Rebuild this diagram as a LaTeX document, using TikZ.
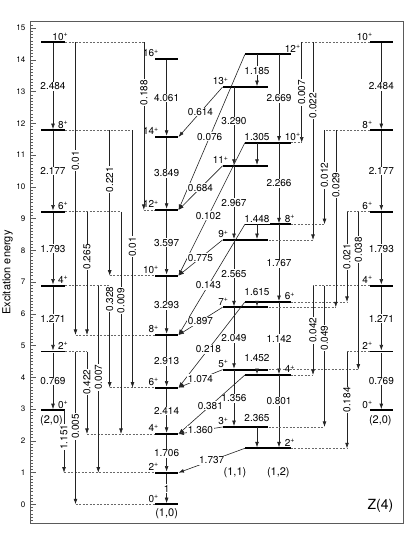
\documentclass[tikz,border=0pt]{standalone}
\usepackage{fontspec}
\setmainfont{TeX Gyre Heros}
\usepackage{tikz}
\usetikzlibrary{positioning, arrows.meta}
\definecolor{linegrey}{RGB}{35,35,35}
\definecolor{dashgrey}{RGB}{105,105,105}
\definecolor{framegrey}{RGB}{90,90,90}
\newcommand{\jp}[1]{#1\textsuperscript{+}}

\begin{document}
\begin{tikzpicture}[
  x=1pt, y=31.75pt,
  font=\fontsize{10}{12}\selectfont,
  lev/.style={fill=black, inner sep=0pt, minimum height=1.8pt},
  levA/.style={lev, minimum width=24pt},
  levG/.style={lev, minimum width=23.3pt},
  levB/.style={lev, minimum width=23pt},
  levW/.style={lev, minimum width=45.6pt},
  spin/.style={inner sep=0.8pt},
  spinA/.style={spin, anchor=south east, xshift=4pt},
  spinG/.style={spin, anchor=south east, xshift=5pt},
  spinO/.style={spin, anchor=south east, xshift=7pt},
  spinE/.style={spin, anchor=south west, xshift=-7pt},
  spinB/.style={spin, anchor=south east, xshift=4pt},
  trans/.style={draw=linegrey, line width=0.6pt, -{Latex[length=5.5pt, width=3.8pt]}},
  transp/.style={trans, shorten >=0.9pt},
  link/.style={draw=dashgrey, line width=0.5pt, dash pattern=on 2pt off 1.5pt},
  val/.style={fill=white, inner sep=0.8pt},
  valv/.style={val, rotate=90},
  band/.style={font=\fontsize{11}{13}\selectfont, inner sep=0pt},
  ticklab/.style={font=\fontsize{8}{9}\selectfont, inner sep=0.5pt, anchor=east}
]
\useasboundingbox (0,-1.282) rectangle (404,15.883);

% frame and energy axis
\draw[framegrey, line width=1pt] (30.7,-0.598) rectangle (403,15.22);
\foreach \i in {-5,...,152} \draw[framegrey, line width=0.4pt] (30.7,\i/10) -- ++(2.5,0);
\foreach \e in {0,...,15} {
  \draw[framegrey, line width=0.5pt] (30.7,\e) -- ++(5,0);
  \node[ticklab] (tk\e) at (26,\e) {\e};
}
\node[rotate=90, font=\fontsize{11}{13}\selectfont] (ylab) at (7.5,7.3) {Excitation energy};

% columns of the interband lines
\coordinate (la) at (64,0);
\coordinate (lb) at (75.5,0);
\coordinate (lc) at (87,0);
\coordinate (ld) at (98.3,0);
\coordinate (le) at (109.7,0);
\coordinate (lf) at (121,0);
\coordinate (lg) at (132.5,0);
\coordinate (lh) at (143.8,0);
\coordinate (ra) at (301.7,0);
\coordinate (rb) at (313,0);
\coordinate (rc) at (324.5,0);
\coordinate (rd) at (335.8,0);
\coordinate (re) at (347,0);
\coordinate (rf) at (358.3,0);
\coordinate (oddx) at (234,0);
\coordinate (evnx) at (279,0);
\coordinate (dix) at (257,0);

% (2,0) band, left
\node[levA] (a0) at (53,2.96) {};
\node[levA] (a2) at (53,4.81) {};
\node[levA] (a4) at (53,6.885) {};
\node[levA] (a6) at (53,9.216) {};
\node[levA] (a8) at (53,11.78) {};
\node[levA] (a10) at (53,14.55) {};
\node[spinA] (sa0) at (a0.north east) {\jp{0}};
\node[spinA] (sa2) at (a2.north east) {\jp{2}};
\node[spinA] (sa4) at (a4.north east) {\jp{4}};
\node[spinA] (sa6) at (a6.north east) {\jp{6}};
\node[spinA] (sa8) at (a8.north east) {\jp{8}};
\node[spinA] (sa10) at (a10.north east) {\jp{10}};
\node[band, below=3.5pt of a0, xshift=-1.5pt] (na) {(2,0)};

% ground band (1,0)
\node[levG] (g0) at (166.6,0) {};
\node[levG] (g2) at (166.6,0.995) {};
\node[levG] (g4) at (166.6,2.214) {};
\node[levG] (g6) at (166.6,3.672) {};
\node[levG] (g8) at (166.6,5.332) {};
\node[levG] (g10) at (166.6,7.2) {};
\node[levG] (g12) at (166.6,9.269) {};
\node[levG] (g14) at (166.6,11.568) {};
\node[levG] (g16) at (166.6,14.025) {};
\node[spinG] (sg0) at (g0.north west) {\jp{0}};
\node[spinG] (sg2) at (g2.north west) {\jp{2}};
\node[spinG] (sg4) at (g4.north west) {\jp{4}};
\node[spinG] (sg6) at (g6.north west) {\jp{6}};
\node[spinG] (sg8) at (g8.north west) {\jp{8}};
\node[spinG] (sg10) at (g10.north west) {\jp{10}};
\node[spinG] (sg12) at (g12.north west) {\jp{12}};
\node[spinG] (sg14) at (g14.north west) {\jp{14}};
\node[spinG] (sg16) at (g16.north west) {\jp{16}};
\node[band, below=2.5pt of g0] (ng) {(1,0)};

% odd gamma levels (1,1)
\node[levW] (c3) at (245.5,2.435) {};
\node[levW] (c5) at (245.5,4.24) {};
\node[levW] (c7) at (245.5,6.205) {};
\node[levW] (c9) at (245.5,8.325) {};
\node[levW] (c11) at (245.5,10.66) {};
\node[levW] (c13) at (245.5,13.14) {};
\node[spinO] (sc3) at (c3.north west) {\jp{3}};
\node[spinO] (sc5) at (c5.north west) {\jp{5}};
\node[spinO] (sc7) at (c7.north west) {\jp{7}};
\node[spinO] (sc9) at (c9.north west) {\jp{9}};
\node[spinO] (sc11) at (c11.north west) {\jp{11}};
\node[spinO] (sc13) at (c13.north west) {\jp{13}};
\node[band] (nc) at (235,1.008) {(1,1)};

% even gamma levels (1,2)
\node[levW] (d2) at (267.9,1.764) {};
\node[levW] (d4) at (267.9,4.072) {};
\node[levW] (d6) at (267.9,6.372) {};
\node[levW] (d8) at (267.9,8.82) {};
\node[levW] (d10) at (267.9,11.39) {};
\node[levW] (d12) at (267.9,14.17) {};
\node[spinE] (sd2) at (d2.north east) {\jp{2}};
\node[spinE] (sd4) at (d4.north east) {\jp{4}};
\node[spinE] (sd6) at (d6.north east) {\jp{6}};
\node[spinE] (sd8) at (d8.north east) {\jp{8}};
\node[spinE] (sd10) at (d10.north east) {\jp{10}};
\node[spinE] (sd12) at (d12.north east) {\jp{12}};
\node[band] (nd) at (278.3,1.008) {(1,2)};

% (2,0) band, right
\node[levB] (b0) at (381.3,2.96) {};
\node[levB] (b2) at (381.3,4.81) {};
\node[levB] (b4) at (381.3,6.885) {};
\node[levB] (b6) at (381.3,9.216) {};
\node[levB] (b8) at (381.3,11.78) {};
\node[levB] (b10) at (381.3,14.55) {};
\node[spinB] (sb0) at (b0.north west) {\jp{0}};
\node[spinB] (sb2) at (b2.north west) {\jp{2}};
\node[spinB] (sb4) at (b4.north west) {\jp{4}};
\node[spinB] (sb6) at (b6.north west) {\jp{6}};
\node[spinB] (sb8) at (b8.north west) {\jp{8}};
\node[spinB] (sb10) at (b10.north west) {\jp{10}};
\node[band, below=3.5pt of b0, xshift=-1pt] (nb) {(2,0)};

% in-band E2 lines
\draw[trans] (a10) -- node[val] (ta1) {2.484} (a8);
\draw[trans] (a8) -- node[val] (ta2) {2.177} (a6);
\draw[trans] (a6) -- node[val] (ta3) {1.793} (a4);
\draw[trans] (a4) -- node[val] (ta4) {1.271} (a2);
\draw[trans] (a2) -- node[val] (ta5) {0.769} (a0);
\draw[trans] (g16) -- node[val] (tg1) {4.061} (g14);
\draw[trans] (g14) -- node[val] (tg2) {3.849} (g12);
\draw[trans] (g12) -- node[val] (tg3) {3.597} (g10);
\draw[trans] (g10) -- node[val] (tg4) {3.293} (g8);
\draw[trans] (g8) -- node[val] (tg5) {2.913} (g6);
\draw[trans] (g6) -- node[val] (tg6) {2.414} (g4);
\draw[trans] (g4) -- node[val] (tg7) {1.706} (g2);
\draw[trans] (g2) -- node[val] (tg8) {1} (g0);
\draw[trans] (b10) -- node[val] (tb1) {2.484} (b8);
\draw[trans] (b8) -- node[val] (tb2) {2.177} (b6);
\draw[trans] (b6) -- node[val] (tb3) {1.793} (b4);
\draw[trans] (b4) -- node[val] (tb4) {1.271} (b2);
\draw[trans] (b2) -- node[val] (tb5) {0.769} (b0);
\draw[transp] (c13 -| oddx) -- node[val, pos=0.43] (tc1) {3.290} (c11 -| oddx);
\draw[transp] (c11 -| oddx) -- node[val] (tc2) {2.967} (c9 -| oddx);
\draw[transp] (c9 -| oddx) -- node[val] (tc3) {2.565} (c7 -| oddx);
\draw[transp] (c7 -| oddx) -- node[val] (tc4) {2.049} (c5 -| oddx);
\draw[transp] (c5 -| oddx) -- node[val] (tc5) {1.356} (c3 -| oddx);
\draw[transp] (d12 -| evnx) -- node[val] (td1) {2.669} (d10 -| evnx);
\draw[transp] (d10 -| evnx) -- node[val] (td2) {2.266} (d8 -| evnx);
\draw[transp] (d8 -| evnx) -- node[val] (td3) {1.767} (d6 -| evnx);
\draw[transp] (d6 -| evnx) -- node[val] (td4) {1.142} (d4 -| evnx);
\draw[transp] (d4 -| evnx) -- node[val, pos=0.36] (td5) {0.801} (d2 -| evnx);

% gamma band, I -> I-1 and I+1
\draw[transp] (d12 -| dix) -- node[val] (te1) {1.185} (c13 -| dix);
\draw[transp] (d10 -| dix) -- node[val, pos=0, yshift=6pt] (te2) {1.305} (c11 -| dix);
\draw[transp] (d8 -| dix) -- node[val, pos=0, yshift=5pt] (te3) {1.448} (c9 -| dix);
\draw[transp] (d6 -| dix) -- node[val, pos=0, yshift=10.3pt] (te4) {1.615} (c7 -| dix);
\draw[transp] (c5 -| dix) -- node[val, pos=0, yshift=11.4pt] (te5) {1.452} (d4 -| dix);
\draw[transp] (c3 -| dix) -- node[val, pos=0, yshift=8.7pt] (te6) {2.365} (d2 -| dix);

% gamma band -> ground band
\draw[trans] (c13.west) -- node[val] (tf1) {0.614} (g14.east);
\draw[trans] (d12.west) -- node[val, pos=0.53] (tf2) {0.076} (g12.east);
\draw[trans] (c11.west) -- node[val] (tf3) {0.684} (g12.east);
\draw[trans] (d10.west) -- node[val, pos=0.55] (tf4) {0.102} (g10.east);
\draw[trans] (c9.west) -- node[val] (tf5) {0.775} (g10.east);
\draw[trans] (d8.west) -- node[val, pos=0.55] (tf6) {0.143} (g8.east);
\draw[trans] (c7.west) -- node[val] (tf7) {0.897} (g8.east);
\draw[trans] (d6.west) -- node[val, pos=0.55] (tf8) {0.218} (g6.east);
\draw[trans] (c5.west) -- node[val] (tf9) {1.074} (g6.east);
\draw[trans] (d4.west) -- node[val, pos=0.52] (tf10) {0.381} (g4.east);
\draw[trans] (c3.west) -- node[val] (tf11) {1.360} (g4.east);
\draw[trans] (d2.west) -- node[val] (tf12) {1.737} (g2.east);

% (2,0) band, left -> ground band
\draw[link] (a10.east) -- (a10 -| lh);
\draw[link] (a8.east) -- (a8 -| lg);
\draw[link] (a6.east) -- (a6 -| lf);
\draw[link] (a4.east) -- (a4 -| le);
\draw[link] (a2.east) -- (a2 -| lc);
\draw[link] (g12 -| lh) -- (g12.west);
\draw[link] (g10 -| le) -- (g10.west);
\draw[link] (g8 -| lb) -- (g8.west);
\draw[link] (g6 -| le) -- (g6.west);
\draw[link] (g4 -| lc) -- (g4.west);
\draw[link] (g2 -| la) -- (g2.west);
\draw[link] (g0 -| lb) -- (g0.west);
\draw[trans] (a10 -| lb) -- node[valv, pos=0.405] (tl1) {0.01} (g8 -| lb);
\draw[trans] (a10 -| lh) -- node[valv, pos=0.3] (tl2) {0.188} (g12 -| lh);
\draw[trans] (a8 -| le) -- node[valv, pos=0.34] (tl3) {0.221} (g10 -| le);
\draw[trans] (a8 -| lg) -- node[valv, pos=0.453] (tl4) {0.01} (g6 -| lg);
\draw[trans] (a6 -| lc) -- node[valv, pos=0.367] (tl5) {0.265} (g8 -| lc);
\draw[trans] (a6 -| lf) -- node[valv, pos=0.4] (tl6) {0.009} (g4 -| lf);
\draw[trans] (a4 -| ld) -- node[valv, pos=0.49] (tl7) {0.007} (g2 -| ld);
\draw[trans] (a4 -| le) -- node[valv, pos=0.13] (tl8) {0.328} (g6 -| le);
\draw[trans] (a2 -| lb) -- node[valv, pos=0.49] (tl9) {0.005} (g0 -| lb);
\draw[trans] (a2 -| lc) -- node[valv, pos=0.37] (tl10) {0.422} (g4 -| lc);
\draw[trans] (a0 -| la) -- node[valv, pos=0.43] (tl11) {1.151} (g2 -| la);

% (2,0) band, right -> gamma band
\draw[link] (b10.west) -- (b10 -| ra);
\draw[link] (b8.west) -- (b8 -| rc);
\draw[link] (b6.west) -- (b6 -| re);
\draw[link] (b4.west) -- (b4 -| rb);
\draw[link] (b2.west) -- (b2 -| re);
\draw[link] (d10.east) -- (d10 -| ra);
\draw[link] (c9.east) -- (c9 -| rb);
\draw[link] (d8.east) -- (d8 -| rc);
\draw[link] (c7.east) -- (c7 -| rd);
\draw[link] (d6.east) -- (d6 -| re);
\draw[link] (c5.east) -- (c5 -| rf);
\draw[link] (d4.east) -- (d4 -| rb);
\draw[link] (c3.east) -- (c3 -| rc);
\draw[link] (d2.east) -- (d2 -| re);
\draw[trans] (b10 -| ra) -- node[valv] (tr1) {0.007} (d10 -| ra);
\draw[trans] (b10 -| rb) -- node[valv, pos=0.32] (tr2) {0.022} (c9 -| rb);
\draw[trans] (b8 -| rc) -- node[valv, pos=0.48] (tr3) {0.012} (d8 -| rc);
\draw[trans] (b8 -| rd) -- node[valv, pos=0.31] (tr4) {0.029} (c7 -| rd);
\draw[trans] (b6 -| re) -- node[valv] (tr5) {0.021} (d6 -| re);
\draw[trans] (b6 -| rf) -- node[valv, pos=0.24] (tr6) {0.038} (c5 -| rf);
\draw[trans] (b4 -| rb) -- node[valv] (tr7) {0.042} (d4 -| rb);
\draw[trans] (b4 -| rc) -- node[valv, pos=0.37] (tr8) {0.049} (c3 -| rc);
\draw[trans] (b2 -| re) -- node[valv] (tr9) {0.184} (d2 -| re);

\node[font=\fontsize{14}{16}\selectfont] (zlab) at (380.5,-0.04) {Z(4)};
\end{tikzpicture}
\end{document}
